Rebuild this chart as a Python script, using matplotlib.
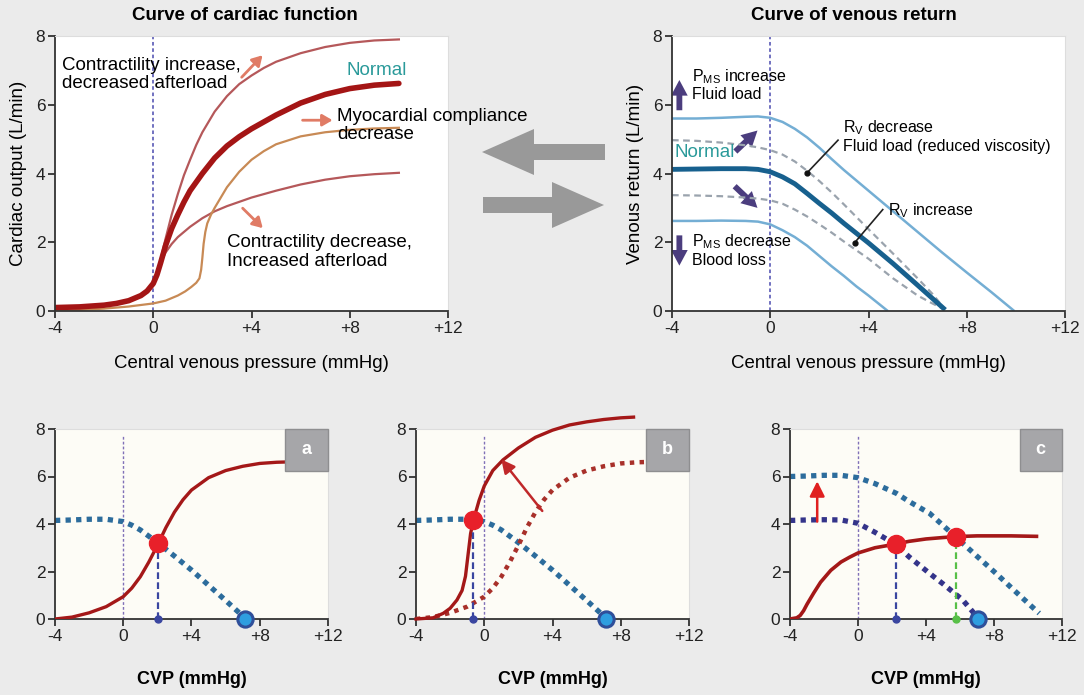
import matplotlib
matplotlib.use('Agg')
import matplotlib.pyplot as plt
import matplotlib.patches as mpatches

plt.rcParams['font.family'] = ['Liberation Sans', 'DejaVu Sans']

# ---- top left: cardiac function curves ----
cf_normal_x = [-4, -3, -2, -1.5, -1, -0.5, -0.25, 0, 0.15, 0.3, 0.5, 0.75, 1, 1.25, 1.5, 2, 2.5, 3, 3.5, 4, 5, 6, 7, 8, 9, 10]
cf_normal_y = [0.1, 0.12, 0.17, 0.22, 0.3, 0.45, 0.58, 0.8, 1.05, 1.4, 1.9, 2.4, 2.8, 3.17, 3.5, 4.0, 4.45, 4.8, 5.07, 5.3, 5.7, 6.05, 6.3, 6.47, 6.57, 6.62]
cf_up_x = [0.15, 0.3, 0.5, 0.75, 1, 1.25, 1.5, 1.75, 2, 2.5, 3, 3.5, 4, 4.5, 5, 6, 7, 8, 9, 10]
cf_up_y = [1.05, 1.5, 2.1, 2.8, 3.4, 3.95, 4.4, 4.83, 5.2, 5.8, 6.25, 6.6, 6.85, 7.07, 7.25, 7.5, 7.68, 7.8, 7.87, 7.9]
cf_down_x = [0.15, 0.3, 0.5, 0.75, 1, 1.5, 2, 2.5, 3, 4, 5, 6, 7, 8, 9, 10]
cf_down_y = [1.05, 1.4, 1.7, 1.95, 2.15, 2.45, 2.7, 2.9, 3.05, 3.3, 3.5, 3.68, 3.82, 3.92, 3.98, 4.02]
cf_comp_x = [-4, -3, -2, -1, 0, 0.5, 1, 1.3, 1.55, 1.75, 1.88, 1.95, 2.0, 2.05, 2.12, 2.2, 2.35, 2.5, 2.75, 3, 3.5, 4, 4.5, 5, 6, 7, 8, 9, 10]
cf_comp_y = [0.0, 0.03, 0.07, 0.13, 0.22, 0.3, 0.45, 0.57, 0.7, 0.82, 0.95, 1.2, 1.55, 1.95, 2.3, 2.55, 2.8, 3.0, 3.3, 3.6, 4.05, 4.4, 4.65, 4.85, 5.08, 5.2, 5.27, 5.31, 5.33]

# ---- top right: venous return curves ----
vr_up_x = [-4, -3, -2, -1, -0.5, 0, 0.5, 1, 1.5, 2, 2.5, 3, 4, 5, 6, 7, 8, 9, 9.9]
vr_up_y = [5.6, 5.6, 5.62, 5.65, 5.66, 5.62, 5.5, 5.3, 5.05, 4.75, 4.42, 4.1, 3.5, 2.9, 2.3, 1.7, 1.12, 0.55, 0.02]
vr_normal_x = [-4, -3, -2, -1, -0.5, 0, 0.5, 1, 1.5, 2, 2.5, 3, 4, 5, 6, 7.05]
vr_normal_y = [4.12, 4.13, 4.14, 4.14, 4.12, 4.05, 3.9, 3.7, 3.42, 3.13, 2.85, 2.55, 1.98, 1.38, 0.75, 0.08]
vr_low_x = [-4, -3, -2, -1, -0.5, 0, 0.5, 1, 1.5, 2, 2.5, 3, 3.5, 4, 4.75]
vr_low_y = [2.62, 2.62, 2.63, 2.62, 2.6, 2.52, 2.35, 2.15, 1.9, 1.6, 1.3, 1.02, 0.72, 0.45, 0.02]
vr_rvdec_x = [-4, -3, -2, -1, -0.5, 0, 0.5, 1, 1.5, 2, 2.5, 3, 4, 5, 6, 6.6, 7.0]
vr_rvdec_y = [4.97, 4.95, 4.9, 4.82, 4.76, 4.68, 4.55, 4.35, 4.08, 3.78, 3.45, 3.1, 2.38, 1.67, 0.95, 0.5, 0.15]
vr_rvinc_x = [-4, -3, -2, -1, -0.5, 0, 0.5, 1, 1.5, 2, 2.5, 3, 4, 5, 6, 6.6, 7.0]
vr_rvinc_y = [3.37, 3.36, 3.34, 3.3, 3.27, 3.22, 3.12, 2.95, 2.75, 2.52, 2.28, 2.02, 1.52, 0.95, 0.45, 0.22, 0.08]

# ---- bottom panels ----
a_co_x = [-4, -3, -2, -1, 0, 0.5, 1, 1.5, 2, 2.5, 3, 3.5, 4, 5, 6, 7, 8, 9, 10]
a_co_y = [0.0, 0.08, 0.26, 0.52, 0.94, 1.3, 1.78, 2.4, 3.1, 3.85, 4.5, 5.02, 5.43, 5.95, 6.25, 6.43, 6.55, 6.6, 6.62]
a_vr_x = [-4, -3, -2, -1, 0, 0.5, 1, 2, 3, 4, 5, 6, 7.15]
a_vr_y = [4.15, 4.17, 4.2, 4.2, 4.1, 3.95, 3.75, 3.22, 2.65, 2.06, 1.42, 0.78, 0.03]
a_eq = (2.06, 3.19)

b_co_x = [-4, -3, -2.4, -2, -1.6, -1.3, -1.1, -1.0, -0.9, -0.8, -0.63, -0.3, 0, 0.5, 1.1, 2, 3, 4, 5, 6, 7, 8, 8.75]
b_co_y = [0, 0.05, 0.24, 0.45, 0.8, 1.2, 1.8, 2.4, 3.0, 3.6, 4.17, 5.0, 5.6, 6.25, 6.7, 7.2, 7.65, 7.95, 8.17, 8.3, 8.4, 8.47, 8.5]
b_eq = (-0.67, 4.17)

c_co_x = [-4, -3.6, -3.4, -3.2, -3.0, -2.6, -2.2, -1.6, -1.0, -0.5, 0, 1, 2.26, 3, 4, 5, 5.78, 7, 8, 9, 10.5]
c_co_y = [0.0, 0.05, 0.15, 0.35, 0.62, 1.1, 1.55, 2.05, 2.4, 2.6, 2.78, 3.0, 3.16, 3.27, 3.37, 3.43, 3.47, 3.5, 3.5, 3.5, 3.48]
c_vr_new_x = [-4, -3, -2, -1, 0, 1, 2.26, 3, 4.21, 5, 6.16, 7, 8.12, 9, 10, 10.66]
c_vr_new_y = [6.0, 6.02, 6.05, 6.05, 5.95, 5.7, 5.29, 4.95, 4.45, 3.94, 3.19, 2.64, 1.92, 1.33, 0.67, 0.24]
c_vr_old_x = [-4, -3, -2, -1, 0, 1, 2.26, 3, 4.21, 5, 6.16, 7.05]
c_vr_old_y = [4.15, 4.17, 4.18, 4.17, 4.03, 3.65, 3.12, 2.62, 1.92, 1.48, 0.8, 0.05]
c_eq1 = (2.26, 3.16)
c_eq2 = (5.78, 3.47)

xticks = [-4, 0, 4, 8, 12]
xticklabels = ['-4', '0', '+4', '+8', '+12']
yticks = [0, 2, 4, 6, 8]

W, H = 1084, 695
fig = plt.figure(figsize=(W / 100, H / 100), dpi=100, facecolor='#ebebeb')


def box(l, t, r, b):
    return [l / W, 1 - b / H, (r - l) / W, (b - t) / H]


def style_axes(ax, face):
    ax.set_facecolor(face)
    ax.set_xlim(-4, 12)
    ax.set_ylim(0, 8)
    ax.set_xticks(xticks)
    ax.set_xticklabels(xticklabels)
    ax.set_yticks(yticks)
    ax.tick_params(direction='out', length=5, width=1.2, labelsize=12.5, colors='#222222', pad=2)
    for s in ['left', 'bottom']:
        ax.spines[s].set_color('#333333')
        ax.spines[s].set_linewidth(1.3)
    for s in ['top', 'right']:
        ax.spines[s].set_color('#dddddd')
        ax.spines[s].set_linewidth(0.8)


# ================= top left =================
ax1 = fig.add_axes(box(55, 36, 448, 311))
style_axes(ax1, 'white')
ax1.axvline(0, color='#6666bb', ls=(0, (2, 1.5)), lw=1.3, zorder=1)
ax1.plot(cf_up_x, cf_up_y, color='#b5585a', lw=1.6)
ax1.plot(cf_down_x, cf_down_y, color='#b5585a', lw=1.6)
ax1.plot(cf_comp_x, cf_comp_y, color='#c88a55', lw=1.6)
ax1.plot(cf_normal_x, cf_normal_y, color='#a41515', lw=4, solid_capstyle='round', solid_joinstyle='round')
ax1.set_ylabel('Cardiac output (L/min)', fontsize=13.5, labelpad=6)
ax1.set_xlabel('Central venous pressure (mmHg)', fontsize=13.4, labelpad=14)
ax1.text(-3.7, 6.88, 'Contractility increase,\ndecreased afterload', fontsize=13.5, va='center', linespacing=1.1)
ax1.text(7.85, 7.0, 'Normal', fontsize=13.5, color='#2a9a9a', va='center')
ax1.text(7.5, 5.4, 'Myocardial compliance\ndecrease', fontsize=13.5, va='center', linespacing=1.1)
ax1.text(3.0, 1.72, 'Contractility decrease,\nIncreased afterload', fontsize=13.5, va='center', linespacing=1.1)
salmon = '#e07b65'
for (x0, y0), (x1, y1) in [((3.6, 6.8), (4.45, 7.44)), ((6.08, 5.55), (7.3, 5.55)), ((3.64, 2.99), (4.46, 2.41))]:
    ax1.annotate('', xy=(x1, y1), xytext=(x0, y0),
                 arrowprops=dict(arrowstyle='-|>,head_length=0.6,head_width=0.35', color=salmon, lw=2,
                                 shrinkA=0, shrinkB=0))
fig.text(245 / W, 1 - 16 / H, 'Curve of cardiac function', fontsize=13.5, fontweight='bold', ha='center', va='center')

# ================= top right =================
ax2 = fig.add_axes(box(672, 36, 1065, 311))
style_axes(ax2, 'white')
ax2.axvline(0, color='#6666bb', ls=(0, (2, 1.5)), lw=1.3, zorder=1)
ax2.plot(vr_up_x, vr_up_y, color='#74aed4', lw=1.8)
ax2.plot(vr_low_x, vr_low_y, color='#74aed4', lw=1.8)
ax2.plot(vr_rvdec_x, vr_rvdec_y, color='#9aa3ad', lw=1.6, ls=(0, (3, 2)))
ax2.plot(vr_rvinc_x, vr_rvinc_y, color='#9aa3ad', lw=1.6, ls=(0, (3, 2)))
ax2.plot(vr_normal_x, vr_normal_y, color='#17608e', lw=3.5)
ax2.set_ylabel('Venous return (L/min)', fontsize=13.5, labelpad=6)
ax2.set_xlabel('Central venous pressure (mmHg)', fontsize=13.4, labelpad=14)
purple = '#4b3d7e'
for (x0, y0), (x1, y1) in [((-3.7, 5.84), (-3.7, 6.72)), ((-3.7, 2.2), (-3.7, 1.32)),
                           ((-1.42, 4.64), (-0.52, 5.25)), ((-1.45, 3.63), (-0.52, 3.0))]:
    ax2.add_patch(mpatches.FancyArrowPatch((x0, y0), (x1, y1),
                  arrowstyle='simple,head_length=0.75,head_width=0.8,tail_width=0.28',
                  mutation_scale=15, color=purple, lw=0, shrinkA=0, shrinkB=0))
ax2.text(-3.2, 6.83, r'P$_{\mathregular{MS}}$ increase', fontsize=11.5, va='center')
ax2.text(-3.2, 6.3, 'Fluid load', fontsize=11.5, va='center')
ax2.text(-3.2, 2.01, r'P$_{\mathregular{MS}}$ decrease', fontsize=11.5, va='center')
ax2.text(-3.2, 1.48, 'Blood loss', fontsize=11.5, va='center')
ax2.text(-3.9, 4.6, 'Normal', fontsize=13.5, color='#2a9a9a', va='center')
ax2.text(2.96, 5.33, r'R$_{\mathregular{V}}$ decrease', fontsize=11.5, va='center')
ax2.text(2.96, 4.78, 'Fluid load (reduced viscosity)', fontsize=11.5, va='center')
ax2.text(4.79, 2.92, r'R$_{\mathregular{V}}$ increase', fontsize=11.5, va='center')
ax2.plot([2.76, 1.5], [4.97, 4.02], color='#222222', lw=1.2)
ax2.plot([1.5], [4.02], 'o', color='#111111', ms=3.5)
ax2.plot([4.58, 3.44], [2.95, 1.99], color='#222222', lw=1.2)
ax2.plot([3.44], [1.99], 'o', color='#111111', ms=3.5)
fig.text(854 / W, 1 - 16 / H, 'Curve of venous return', fontsize=13.5, fontweight='bold', ha='center', va='center')

# middle grey arrows (figure inches)
grey = '#999999'
fig.patches.append(mpatches.FancyArrow(6.05, (H - 152) / 100, -1.23, 0, width=0.16, head_width=0.46,
                                       head_length=0.52, length_includes_head=True, color=grey, lw=0,
                                       transform=fig.dpi_scale_trans, figure=fig))
fig.patches.append(mpatches.FancyArrow(4.83, (H - 205) / 100, 1.21, 0, width=0.16, head_width=0.46,
                                       head_length=0.52, length_includes_head=True, color=grey, lw=0,
                                       transform=fig.dpi_scale_trans, figure=fig))

# ================= bottom panels =================
cream = '#fdfcf6'
red = '#a41818'
vblue = '#2c6c9c'
navy = '#34348a'
dot_red = '#e8202a'


def bottom(rect, letter):
    ax = fig.add_axes(rect)
    style_axes(ax, cream)
    ax.tick_params(labelsize=12.5)
    ax.set_xlabel('CVP (mmHg)', fontsize=13, fontweight='bold', labelpad=20)
    ax.plot([0, 0], [0, 7.75], color='#8070b8', ls=(0, (2, 1.5)), lw=1, zorder=1)
    ax.add_patch(mpatches.Rectangle((9.5, 6.22), 2.5, 1.8, facecolor='#a6a6a9', edgecolor='#8e8e90',
                                    lw=1, zorder=6, clip_on=False))
    ax.text(10.75, 7.12, letter, color='white', fontsize=13, fontweight='bold', ha='center', va='center', zorder=7)
    return ax


def eq_drop(ax, pt, col):
    ax.plot([pt[0], pt[0]], [0, pt[1]], color=col, ls=(0, (3, 1.5)), lw=1.6, zorder=3)
    ax.plot([pt[0]], [0], 'o', color=col, ms=5, zorder=4, clip_on=False)


def endpoint(ax, x):
    ax.plot([x], [0], 'o', ms=11, mfc='#2e9ee0', mec='#2f4f9a', mew=2.2, zorder=6, clip_on=False)


axa = bottom(box(55, 429, 328, 619), 'a')
axa.plot(a_vr_x, a_vr_y, color=vblue, lw=3.8, ls=(0, (1, 1)), zorder=2)
axa.plot(a_co_x, a_co_y, color=red, lw=2.4, zorder=3)
eq_drop(axa, a_eq, '#3a46a0')
axa.plot(*a_eq, 'o', color=dot_red, ms=13, zorder=5)
endpoint(axa, 7.15)

axb = bottom(box(416, 429, 689, 619), 'b')
axb.plot(a_vr_x, a_vr_y, color=vblue, lw=3.8, ls=(0, (1, 1)), zorder=2)
axb.plot(a_co_x, a_co_y, color='#a8302a', lw=3.2, ls=(0, (1, 1.2)), zorder=3)
axb.plot(b_co_x, b_co_y, color=red, lw=2.4, zorder=3, clip_on=False)
eq_drop(axb, b_eq, '#3a46a0')
axb.plot(*b_eq, 'o', color=dot_red, ms=13, zorder=5)
endpoint(axb, 7.15)
axb.annotate('', xy=(1.0, 6.72), xytext=(3.4, 4.55),
             arrowprops=dict(arrowstyle='-|>,head_length=0.8,head_width=0.4', color='#c0282a', lw=1.8,
                             shrinkA=0, shrinkB=0))

axc = bottom(box(790, 429, 1062, 619), 'c')
axc.plot(c_vr_new_x, c_vr_new_y, color=vblue, lw=3.8, ls=(0, (1, 1)), zorder=2)
axc.plot(c_vr_old_x, c_vr_old_y, color=navy, lw=3.8, ls=(0, (1, 1)), zorder=2)
axc.plot(c_co_x, c_co_y, color=red, lw=2.6, zorder=3)
eq_drop(axc, c_eq1, '#3a46a0')
eq_drop(axc, c_eq2, '#58c048')
axc.plot(*c_eq1, 'o', color=dot_red, ms=13, zorder=5)
axc.plot(*c_eq2, 'o', color=dot_red, ms=13, zorder=5)
endpoint(axc, 7.05)
axc.annotate('', xy=(-2.4, 5.8), xytext=(-2.4, 4.1),
             arrowprops=dict(arrowstyle='-|>,head_length=0.9,head_width=0.45', color='#e02020', lw=1.8,
                             shrinkA=0, shrinkB=0))

fig.savefig('out.png', dpi=100, facecolor=fig.get_facecolor())
